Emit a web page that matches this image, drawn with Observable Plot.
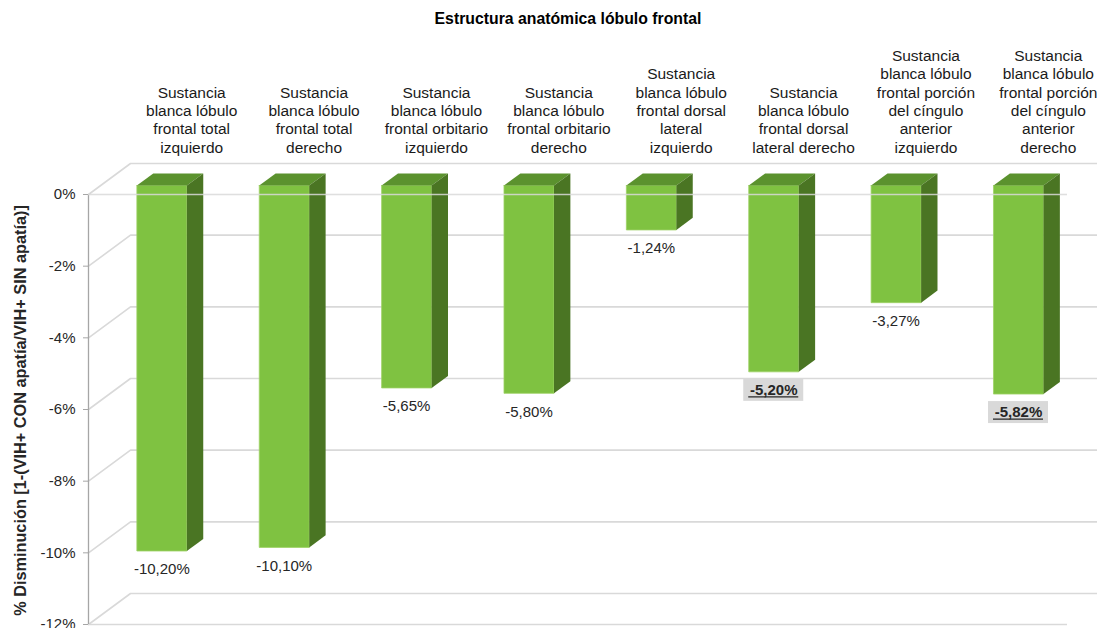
<!DOCTYPE html>
<html><head><meta charset="utf-8">
<script src="https://cdn.jsdelivr.net/npm/d3@7"></script>
<script src="https://cdn.jsdelivr.net/npm/@observablehq/plot@0.6"></script>
<style>
body{margin:0;background:#fff;font-family:"Liberation Sans",Arial,sans-serif}
#wrap{position:relative;width:1097px;height:628px;overflow:hidden}
#title{position:absolute;top:10px;left:0;width:1136px;text-align:center;font:bold 15.8px "Liberation Sans",Arial,sans-serif;color:#000}
</style></head><body>
<div id="wrap"><div id="title">Estructura anatómica lóbulo frontal</div></div>
<script>
// ---- data ----
const categories = [
  "Sustancia\nblanca lóbulo\nfrontal total\nizquierdo",
  "Sustancia\nblanca lóbulo\nfrontal total\nderecho",
  "Sustancia\nblanca lóbulo\nfrontal orbitario\nizquierdo",
  "Sustancia\nblanca lóbulo\nfrontal orbitario\nderecho",
  "Sustancia\nblanca lóbulo\nfrontal dorsal\nlateral\nizquierdo",
  "Sustancia\nblanca lóbulo\nfrontal dorsal\nlateral derecho",
  "Sustancia\nblanca lóbulo\nfrontal porción\ndel cíngulo\nanterior\nizquierdo",
  "Sustancia\nblanca lóbulo\nfrontal porción\ndel cíngulo\nanterior\nderecho"
];
const values = [-10.20, -10.10, -5.65, -5.80, -1.24, -5.20, -3.27, -5.82];
const valueLabels = ["-10,20%", "-10,10%", "-5,65%", "-5,80%", "-1,24%", "-5,20%", "-3,27%", "-5,82%"];
const highlighted = [false, false, false, false, false, true, false, true];
const yTicks = [0, -2, -4, -6, -8, -10, -12];
const yLabel = "% Disminución [1-(VIH+ CON apatía/VIH+ SIN apatía)]";

// ---- layout (pixels) ----
const W = 1097, H = 628;
const pLeft = 88, pRight = 1067, pTop = 194, pBottom = 624;
const kx = (pRight - pLeft) / categories.length;   // px per category unit
const ky = (pBottom - pTop) / 12;                   // px per percent
const ux = 42 / kx, uy = 31 / ky;                   // full depth offset in data units
const f1 = 0.29, f2 = 0.68;                         // bar front/back depth fractions
const hw = 25 / kx;                                 // bar half width

const bars = values.map((v, i) => ({i, v, label: valueLabels[i], hl: highlighted[i],
  xl: i + 0.5 - hw, xr: i + 0.5 + hw}));

function poly(id, pts) { return pts.map(([x, y]) => ({id, x, y})); }
const front = bars.flatMap(b => poly(b.i, [
  [b.xl + f1*ux, f1*uy], [b.xr + f1*ux, f1*uy], [b.xr + f1*ux, b.v + f1*uy], [b.xl + f1*ux, b.v + f1*uy], [b.xl + f1*ux, f1*uy]]));
const topFace = bars.flatMap(b => poly(b.i, [
  [b.xl + f1*ux, f1*uy], [b.xr + f1*ux, f1*uy], [b.xr + f2*ux, f2*uy], [b.xl + f2*ux, f2*uy]]));
const side = bars.flatMap(b => poly(b.i, [
  [b.xr + f1*ux, f1*uy], [b.xr + f2*ux, f2*uy], [b.xr + f2*ux, b.v + f2*uy], [b.xr + f1*ux, b.v + f1*uy]]));

const grid = yTicks.flatMap(t => poly(t, [[0, t], [ux, t + uy], [categories.length + ux, t + uy]]));
const gridColor = "#d9d9d9";

const hlBars = bars.filter(b => b.hl);
const plainBars = bars.filter(b => !b.hl);
const labCenter = b => b.v + f1*uy - 18.5/ky;
const cx = b => b.i + 0.5 + f1*ux;

const chart = Plot.plot({
  width: W, height: H,
  marginLeft: pLeft, marginRight: W - pRight, marginTop: pTop, marginBottom: H - pBottom,
  style: {fontFamily: "Liberation Sans, Arial, sans-serif", fontSize: "15px", background: "#fff"},
  x: {domain: [0, categories.length], axis: null},
  y: {domain: [-12, 0]},
  marks: [
    Plot.line(grid, {x: "x", y: "y", z: "id", stroke: gridColor, strokeWidth: 1.6}),
    Plot.ruleY([-12], {x1: 0, x2: categories.length, stroke: gridColor, strokeWidth: 1.6}),
    Plot.ruleX([0], {y1: -12, y2: 0, stroke: "#a6a6a6", strokeWidth: 1.3}),
    Plot.axisY({ticks: yTicks, tickFormat: d => `${d}%`, tickSize: 5, tickPadding: 8,
      fontSize: 15, stroke: "#a6a6a6", fill: "#262626", label: null}),
    Plot.line(front, {x: "x", y: "y", z: "id", fill: "#7fc241", stroke: "#9ed266", strokeWidth: 0.8}),
    Plot.line(topFace, {x: "x", y: "y", z: "id", fill: "#5b922e", stroke: "none"}),
    Plot.line(side, {x: "x", y: "y", z: "id", fill: "#4a7523", stroke: "none"}),
    Plot.ruleY([0], {x1: 0, x2: categories.length, stroke: gridColor, strokeWidth: 1.6, strokeOpacity: 0.85}),
    Plot.rect(hlBars, {x1: b => cx(b) - 30/kx, x2: b => cx(b) + 30/kx,
      y1: b => labCenter(b) - 11/ky, y2: b => labCenter(b) + 11/ky, fill: "#d9d9d9"}),
    Plot.text(plainBars, {x: cx, y: b => b.v + f1*uy, dy: 18.5, text: "label",
      fontSize: 15, fill: "#262626"}),
    Plot.text(hlBars, {x: cx, y: b => b.v + f1*uy, dy: 18.5, text: "label",
      fontSize: 15, fill: "#262626", fontWeight: "bold"}),
    Plot.ruleY(hlBars, {y: labCenter, dy: 6.5, x1: b => cx(b) - 25/kx,
      x2: b => cx(b) + 25/kx, stroke: "#262626", strokeWidth: 1.3}),
    Plot.text(categories, {x: (d, i) => i + 0.5 + ux, y: () => (pTop - 152) / ky, text: d => d,
      lineAnchor: "bottom", lineHeight: 1.18, fontSize: 15.5, fill: "#1a1a1a"}),
    Plot.text([yLabel], {x: () => (20 - pLeft) / kx, y: () => -(410 - pTop) / ky, text: d => d,
      rotate: -90, fontWeight: "bold", fontSize: 16.3, fill: "#262626"})
  ]
});
document.getElementById("wrap").prepend(chart);
</script>
</body></html>
